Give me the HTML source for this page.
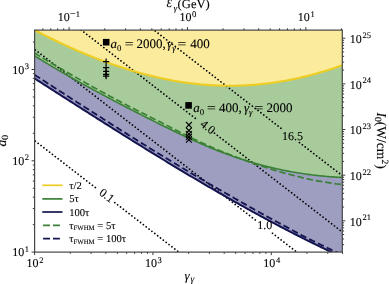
<!DOCTYPE html>
<html><head><meta charset="utf-8"><style>
html,body{margin:0;padding:0;background:#fff;overflow:hidden;}
svg{display:block;will-change:transform;font-family:"Liberation Serif",serif;text-rendering:geometricPrecision;}
text{stroke:#000;stroke-width:0.1px;}
</style></head><body>
<svg width="389" height="284" viewBox="0 0 389 284">
<defs><clipPath id="c"><rect x="34.60" y="30.10" width="307.70" height="222.00"/></clipPath></defs>
<rect width="389" height="284" fill="#fff"/>
<g clip-path="url(#c)">
<polygon fill="#fbeb9c" points="34.6,28.1 344.3,28.1 344.3,65.17407000513745 342.30,65.17 340.75,65.73 339.21,66.29 337.66,66.83 336.12,67.37 334.57,67.90 333.02,68.42 331.48,68.94 329.93,69.44 328.38,69.94 326.84,70.44 325.29,70.92 323.75,71.39 322.20,71.86 320.65,72.32 319.11,72.78 317.56,73.22 316.01,73.66 314.47,74.09 312.92,74.51 311.38,74.92 309.83,75.33 308.28,75.73 306.74,76.12 305.19,76.50 303.64,76.88 302.10,77.24 300.55,77.60 299.01,77.95 297.46,78.30 295.91,78.64 294.37,78.96 292.82,79.28 291.27,79.60 289.73,79.90 288.18,80.20 286.64,80.49 285.09,80.77 283.54,81.05 282.00,81.31 280.45,81.57 278.90,81.82 277.36,82.07 275.81,82.30 274.27,82.53 272.72,82.75 271.17,82.96 269.63,83.17 268.08,83.36 266.53,83.55 264.99,83.73 263.44,83.91 261.90,84.07 260.35,84.23 258.80,84.38 257.26,84.52 255.71,84.66 254.16,84.78 252.62,84.90 251.07,85.01 249.53,85.12 247.98,85.21 246.43,85.30 244.89,85.38 243.34,85.45 241.79,85.52 240.25,85.57 238.70,85.62 237.16,85.67 235.61,85.70 234.06,85.72 232.52,85.74 230.97,85.75 229.43,85.75 227.88,85.75 226.33,85.74 224.79,85.71 223.24,85.69 221.69,85.65 220.15,85.60 218.60,85.55 217.06,85.49 215.51,85.42 213.96,85.35 212.42,85.27 210.87,85.17 209.32,85.08 207.78,84.97 206.23,84.85 204.69,84.73 203.14,84.60 201.59,84.46 200.05,84.32 198.50,84.16 196.95,84.00 195.41,83.84 193.86,83.66 192.32,83.48 190.77,83.28 189.22,83.08 187.68,82.88 186.13,82.66 184.58,82.44 183.04,82.21 181.49,81.98 179.95,81.74 178.40,81.48 176.85,81.23 175.31,80.96 173.76,80.69 172.21,80.41 170.67,80.12 169.12,79.83 167.58,79.53 166.03,79.22 164.48,78.90 162.94,78.58 161.39,78.25 159.84,77.91 158.30,77.57 156.75,77.22 155.21,76.86 153.66,76.50 152.11,76.13 150.57,75.75 149.02,75.37 147.47,74.98 145.93,74.58 144.38,74.17 142.84,73.76 141.29,73.34 139.74,72.92 138.20,72.49 136.65,72.05 135.11,71.61 133.56,71.16 132.01,70.70 130.47,70.23 128.92,69.76 127.37,69.29 125.83,68.81 124.28,68.32 122.74,67.82 121.19,67.32 119.64,66.81 118.10,66.30 116.55,65.78 115.00,65.25 113.46,64.72 111.91,64.18 110.37,63.63 108.82,63.08 107.27,62.53 105.73,61.96 104.18,61.40 102.63,60.82 101.09,60.24 99.54,59.65 98.00,59.06 96.45,58.46 94.90,57.86 93.36,57.25 91.81,56.63 90.26,56.01 88.72,55.39 87.17,54.75 85.63,54.12 84.08,53.47 82.53,52.82 80.99,52.17 79.44,51.51 77.89,50.84 76.35,50.17 74.80,49.50 73.26,48.81 71.71,48.13 70.16,47.44 68.62,46.74 67.07,46.03 65.52,45.33 63.98,44.61 62.43,43.89 60.89,43.17 59.34,42.44 57.79,41.71 56.25,40.97 54.70,40.22 53.15,39.47 51.61,38.72 50.06,37.96 48.52,37.20 46.97,36.43 45.42,35.65 43.88,34.88 42.33,34.09 40.78,33.30 39.24,32.51 37.69,31.71 36.15,30.91 34.60,30.10 32.6,30.10372339808992"/>
<polygon fill="#a8cb9b" points="34.60,30.10 36.15,30.91 37.69,31.71 39.24,32.51 40.78,33.30 42.33,34.09 43.88,34.88 45.42,35.65 46.97,36.43 48.52,37.20 50.06,37.96 51.61,38.72 53.15,39.47 54.70,40.22 56.25,40.97 57.79,41.71 59.34,42.44 60.89,43.17 62.43,43.89 63.98,44.61 65.52,45.33 67.07,46.03 68.62,46.74 70.16,47.44 71.71,48.13 73.26,48.81 74.80,49.50 76.35,50.17 77.89,50.84 79.44,51.51 80.99,52.17 82.53,52.82 84.08,53.47 85.63,54.12 87.17,54.75 88.72,55.39 90.26,56.01 91.81,56.63 93.36,57.25 94.90,57.86 96.45,58.46 98.00,59.06 99.54,59.65 101.09,60.24 102.63,60.82 104.18,61.40 105.73,61.96 107.27,62.53 108.82,63.08 110.37,63.63 111.91,64.18 113.46,64.72 115.00,65.25 116.55,65.78 118.10,66.30 119.64,66.81 121.19,67.32 122.74,67.82 124.28,68.32 125.83,68.81 127.37,69.29 128.92,69.76 130.47,70.23 132.01,70.70 133.56,71.16 135.11,71.61 136.65,72.05 138.20,72.49 139.74,72.92 141.29,73.34 142.84,73.76 144.38,74.17 145.93,74.58 147.47,74.98 149.02,75.37 150.57,75.75 152.11,76.13 153.66,76.50 155.21,76.86 156.75,77.22 158.30,77.57 159.84,77.91 161.39,78.25 162.94,78.58 164.48,78.90 166.03,79.22 167.58,79.53 169.12,79.83 170.67,80.12 172.21,80.41 173.76,80.69 175.31,80.96 176.85,81.23 178.40,81.48 179.95,81.74 181.49,81.98 183.04,82.21 184.58,82.44 186.13,82.66 187.68,82.88 189.22,83.08 190.77,83.28 192.32,83.48 193.86,83.66 195.41,83.84 196.95,84.00 198.50,84.16 200.05,84.32 201.59,84.46 203.14,84.60 204.69,84.73 206.23,84.85 207.78,84.97 209.32,85.08 210.87,85.17 212.42,85.27 213.96,85.35 215.51,85.42 217.06,85.49 218.60,85.55 220.15,85.60 221.69,85.65 223.24,85.69 224.79,85.71 226.33,85.74 227.88,85.75 229.43,85.75 230.97,85.75 232.52,85.74 234.06,85.72 235.61,85.70 237.16,85.67 238.70,85.62 240.25,85.57 241.79,85.52 243.34,85.45 244.89,85.38 246.43,85.30 247.98,85.21 249.53,85.12 251.07,85.01 252.62,84.90 254.16,84.78 255.71,84.66 257.26,84.52 258.80,84.38 260.35,84.23 261.90,84.07 263.44,83.91 264.99,83.73 266.53,83.55 268.08,83.36 269.63,83.17 271.17,82.96 272.72,82.75 274.27,82.53 275.81,82.30 277.36,82.07 278.90,81.82 280.45,81.57 282.00,81.31 283.54,81.05 285.09,80.77 286.64,80.49 288.18,80.20 289.73,79.90 291.27,79.60 292.82,79.28 294.37,78.96 295.91,78.64 297.46,78.30 299.01,77.95 300.55,77.60 302.10,77.24 303.64,76.88 305.19,76.50 306.74,76.12 308.28,75.73 309.83,75.33 311.38,74.92 312.92,74.51 314.47,74.09 316.01,73.66 317.56,73.22 319.11,72.78 320.65,72.32 322.20,71.86 323.75,71.39 325.29,70.92 326.84,70.44 328.38,69.94 329.93,69.44 331.48,68.94 333.02,68.42 334.57,67.90 336.12,67.37 337.66,66.83 339.21,66.29 340.75,65.73 342.30,65.17 344.3,65.17407000513745 344.3,177.45064825028211 342.30,177.45 340.75,177.38 339.21,177.30 337.66,177.22 336.12,177.13 334.57,177.03 333.02,176.92 331.48,176.82 329.93,176.70 328.38,176.58 326.84,176.45 325.29,176.31 323.75,176.17 322.20,176.03 320.65,175.87 319.11,175.71 317.56,175.54 316.01,175.37 314.47,175.19 312.92,175.01 311.38,174.81 309.83,174.61 308.28,174.41 306.74,174.20 305.19,173.98 303.64,173.75 302.10,173.52 300.55,173.29 299.01,173.04 297.46,172.79 295.91,172.53 294.37,172.27 292.82,172.00 291.27,171.72 289.73,171.44 288.18,171.15 286.64,170.85 285.09,170.55 283.54,170.24 282.00,169.92 280.45,169.59 278.90,169.26 277.36,168.93 275.81,168.58 274.27,168.23 272.72,167.87 271.17,167.51 269.63,167.14 268.08,166.76 266.53,166.38 264.99,165.98 263.44,165.59 261.90,165.18 260.35,164.77 258.80,164.35 257.26,163.92 255.71,163.49 254.16,163.05 252.62,162.61 251.07,162.15 249.53,161.69 247.98,161.22 246.43,160.75 244.89,160.27 243.34,159.78 241.79,159.29 240.25,158.78 238.70,158.27 237.16,157.76 235.61,157.23 234.06,156.70 232.52,156.17 230.97,155.62 229.43,155.07 227.88,154.51 226.33,153.94 224.79,153.37 223.24,152.79 221.69,152.20 220.15,151.61 218.60,151.01 217.06,150.40 215.51,149.78 213.96,149.16 212.42,148.53 210.87,147.89 209.32,147.24 207.78,146.59 206.23,145.94 204.69,145.27 203.14,144.60 201.59,143.93 200.05,143.25 198.50,142.56 196.95,141.87 195.41,141.17 193.86,140.47 192.32,139.77 190.77,139.06 189.22,138.34 187.68,137.62 186.13,136.90 184.58,136.17 183.04,135.44 181.49,134.71 179.95,133.97 178.40,133.24 176.85,132.49 175.31,131.75 173.76,131.00 172.21,130.25 170.67,129.50 169.12,128.75 167.58,127.99 166.03,127.24 164.48,126.48 162.94,125.71 161.39,124.95 159.84,124.18 158.30,123.42 156.75,122.65 155.21,121.87 153.66,121.10 152.11,120.33 150.57,119.55 149.02,118.77 147.47,117.99 145.93,117.21 144.38,116.43 142.84,115.64 141.29,114.86 139.74,114.07 138.20,113.28 136.65,112.49 135.11,111.70 133.56,110.91 132.01,110.11 130.47,109.32 128.92,108.52 127.37,107.72 125.83,106.92 124.28,106.12 122.74,105.32 121.19,104.51 119.64,103.71 118.10,102.90 116.55,102.09 115.00,101.28 113.46,100.47 111.91,99.65 110.37,98.84 108.82,98.02 107.27,97.20 105.73,96.38 104.18,95.56 102.63,94.73 101.09,93.90 99.54,93.08 98.00,92.25 96.45,91.41 94.90,90.58 93.36,89.74 91.81,88.90 90.26,88.06 88.72,87.22 87.17,86.38 85.63,85.53 84.08,84.68 82.53,83.83 80.99,82.98 79.44,82.12 77.89,81.26 76.35,80.40 74.80,79.54 73.26,78.67 71.71,77.80 70.16,76.93 68.62,76.05 67.07,75.17 65.52,74.29 63.98,73.40 62.43,72.51 60.89,71.62 59.34,70.73 57.79,69.83 56.25,68.92 54.70,68.02 53.15,67.11 51.61,66.19 50.06,65.27 48.52,64.35 46.97,63.42 45.42,62.49 43.88,61.56 42.33,60.62 40.78,59.68 39.24,58.73 37.69,57.77 36.15,56.82 34.60,55.85 32.6,55.85386087221128 32.6,30.10372339808992"/>
<polygon fill="#9e9ec0" points="34.60,55.85 36.15,56.82 37.69,57.77 39.24,58.73 40.78,59.68 42.33,60.62 43.88,61.56 45.42,62.49 46.97,63.42 48.52,64.35 50.06,65.27 51.61,66.19 53.15,67.11 54.70,68.02 56.25,68.92 57.79,69.83 59.34,70.73 60.89,71.62 62.43,72.51 63.98,73.40 65.52,74.29 67.07,75.17 68.62,76.05 70.16,76.93 71.71,77.80 73.26,78.67 74.80,79.54 76.35,80.40 77.89,81.26 79.44,82.12 80.99,82.98 82.53,83.83 84.08,84.68 85.63,85.53 87.17,86.38 88.72,87.22 90.26,88.06 91.81,88.90 93.36,89.74 94.90,90.58 96.45,91.41 98.00,92.25 99.54,93.08 101.09,93.90 102.63,94.73 104.18,95.56 105.73,96.38 107.27,97.20 108.82,98.02 110.37,98.84 111.91,99.65 113.46,100.47 115.00,101.28 116.55,102.09 118.10,102.90 119.64,103.71 121.19,104.51 122.74,105.32 124.28,106.12 125.83,106.92 127.37,107.72 128.92,108.52 130.47,109.32 132.01,110.11 133.56,110.91 135.11,111.70 136.65,112.49 138.20,113.28 139.74,114.07 141.29,114.86 142.84,115.64 144.38,116.43 145.93,117.21 147.47,117.99 149.02,118.77 150.57,119.55 152.11,120.33 153.66,121.10 155.21,121.87 156.75,122.65 158.30,123.42 159.84,124.18 161.39,124.95 162.94,125.71 164.48,126.48 166.03,127.24 167.58,127.99 169.12,128.75 170.67,129.50 172.21,130.25 173.76,131.00 175.31,131.75 176.85,132.49 178.40,133.24 179.95,133.97 181.49,134.71 183.04,135.44 184.58,136.17 186.13,136.90 187.68,137.62 189.22,138.34 190.77,139.06 192.32,139.77 193.86,140.47 195.41,141.17 196.95,141.87 198.50,142.56 200.05,143.25 201.59,143.93 203.14,144.60 204.69,145.27 206.23,145.94 207.78,146.59 209.32,147.24 210.87,147.89 212.42,148.53 213.96,149.16 215.51,149.78 217.06,150.40 218.60,151.01 220.15,151.61 221.69,152.20 223.24,152.79 224.79,153.37 226.33,153.94 227.88,154.51 229.43,155.07 230.97,155.62 232.52,156.17 234.06,156.70 235.61,157.23 237.16,157.76 238.70,158.27 240.25,158.78 241.79,159.29 243.34,159.78 244.89,160.27 246.43,160.75 247.98,161.22 249.53,161.69 251.07,162.15 252.62,162.61 254.16,163.05 255.71,163.49 257.26,163.92 258.80,164.35 260.35,164.77 261.90,165.18 263.44,165.59 264.99,165.98 266.53,166.38 268.08,166.76 269.63,167.14 271.17,167.51 272.72,167.87 274.27,168.23 275.81,168.58 277.36,168.93 278.90,169.26 280.45,169.59 282.00,169.92 283.54,170.24 285.09,170.55 286.64,170.85 288.18,171.15 289.73,171.44 291.27,171.72 292.82,172.00 294.37,172.27 295.91,172.53 297.46,172.79 299.01,173.04 300.55,173.29 302.10,173.52 303.64,173.75 305.19,173.98 306.74,174.20 308.28,174.41 309.83,174.61 311.38,174.81 312.92,175.01 314.47,175.19 316.01,175.37 317.56,175.54 319.11,175.71 320.65,175.87 322.20,176.03 323.75,176.17 325.29,176.31 326.84,176.45 328.38,176.58 329.93,176.70 331.48,176.82 333.02,176.92 334.57,177.03 336.12,177.13 337.66,177.22 339.21,177.30 340.75,177.38 342.30,177.45 344.3,177.45064825028211 344.3,254.1 345.0,254.1 345.00,258.37 343.75,257.80 342.51,257.23 341.26,256.65 340.01,256.08 338.77,255.50 337.52,254.93 336.27,254.35 335.03,253.76 333.78,253.18 332.53,252.60 331.29,252.01 330.04,251.42 328.79,250.83 327.55,250.24 326.30,249.64 325.05,249.05 323.81,248.45 322.56,247.85 321.31,247.25 320.07,246.65 318.82,246.04 317.58,245.44 316.33,244.83 315.08,244.22 313.84,243.61 312.59,243.00 311.34,242.38 310.10,241.77 308.85,241.15 307.60,240.53 306.36,239.91 305.11,239.28 303.86,238.66 302.62,238.03 301.37,237.41 300.12,236.78 298.88,236.15 297.63,235.51 296.38,234.88 295.14,234.24 293.89,233.61 292.64,232.97 291.40,232.33 290.15,231.69 288.90,231.04 287.66,230.40 286.41,229.75 285.16,229.11 283.92,228.46 282.67,227.81 281.42,227.15 280.18,226.50 278.93,225.84 277.68,225.19 276.44,224.53 275.19,223.87 273.94,223.21 272.70,222.55 271.45,221.88 270.20,221.22 268.96,220.55 267.71,219.88 266.47,219.21 265.22,218.54 263.97,217.87 262.73,217.20 261.48,216.52 260.23,215.84 258.99,215.17 257.74,214.49 256.49,213.81 255.25,213.13 254.00,212.44 252.75,211.76 251.51,211.07 250.26,210.39 249.01,209.70 247.77,209.01 246.52,208.32 245.27,207.62 244.03,206.93 242.78,206.24 241.53,205.54 240.29,204.84 239.04,204.14 237.79,203.44 236.55,202.74 235.30,202.04 234.05,201.34 232.81,200.63 231.56,199.93 230.31,199.22 229.07,198.51 227.82,197.80 226.57,197.09 225.33,196.38 224.08,195.67 222.83,194.96 221.59,194.24 220.34,193.53 219.09,192.81 217.85,192.09 216.60,191.37 215.36,190.65 214.11,189.93 212.86,189.21 211.62,188.48 210.37,187.76 209.12,187.03 207.88,186.30 206.63,185.58 205.38,184.85 204.14,184.12 202.89,183.39 201.64,182.65 200.40,181.92 199.15,181.19 197.90,180.45 196.66,179.72 195.41,178.98 194.16,178.24 192.92,177.50 191.67,176.76 190.42,176.02 189.18,175.28 187.93,174.54 186.68,173.79 185.44,173.05 184.19,172.30 182.94,171.56 181.70,170.81 180.45,170.06 179.20,169.31 177.96,168.56 176.71,167.81 175.46,167.06 174.22,166.31 172.97,165.56 171.72,164.80 170.48,164.05 169.23,163.29 167.98,162.53 166.74,161.78 165.49,161.02 164.24,160.26 163.00,159.50 161.75,158.74 160.51,157.98 159.26,157.22 158.01,156.45 156.77,155.69 155.52,154.93 154.27,154.16 153.03,153.39 151.78,152.63 150.53,151.86 149.29,151.09 148.04,150.32 146.79,149.56 145.55,148.79 144.30,148.02 143.05,147.24 141.81,146.47 140.56,145.70 139.31,144.93 138.07,144.15 136.82,143.38 135.57,142.60 134.33,141.83 133.08,141.05 131.83,140.27 130.59,139.50 129.34,138.72 128.09,137.94 126.85,137.16 125.60,136.38 124.35,135.60 123.11,134.82 121.86,134.04 120.61,133.26 119.37,132.47 118.12,131.69 116.87,130.91 115.63,130.12 114.38,129.34 113.13,128.55 111.89,127.77 110.64,126.98 109.40,126.20 108.15,125.41 106.90,124.62 105.66,123.83 104.41,123.05 103.16,122.26 101.92,121.47 100.67,120.68 99.42,119.89 98.18,119.10 96.93,118.31 95.68,117.52 94.44,116.73 93.19,115.93 91.94,115.14 90.70,114.35 89.45,113.56 88.20,112.76 86.96,111.97 85.71,111.18 84.46,110.38 83.22,109.59 81.97,108.79 80.72,108.00 79.48,107.20 78.23,106.41 76.98,105.61 75.74,104.81 74.49,104.02 73.24,103.22 72.00,102.42 70.75,101.63 69.50,100.83 68.26,100.03 67.01,99.23 65.76,98.44 64.52,97.64 63.27,96.84 62.02,96.04 60.78,95.24 59.53,94.44 58.29,93.65 57.04,92.85 55.79,92.05 54.55,91.25 53.30,90.45 52.05,89.65 50.81,88.85 49.56,88.05 48.31,87.25 47.07,86.45 45.82,85.65 44.57,84.85 43.33,84.05 42.08,83.25 40.83,82.45 39.59,81.65 38.34,80.84 37.09,80.04 35.85,79.24 34.60,78.44 32.6,78.44250850084877 32.6,55.85386087221128"/>
<line x1="29.60" y1="136.72" x2="97.80" y2="189.46" stroke="#000" stroke-width="1.75" stroke-dasharray="0.01 3.6" stroke-linecap="round" fill="none"/>
<line x1="114.80" y1="202.61" x2="347.30" y2="382.40" stroke="#000" stroke-width="1.75" stroke-dasharray="0.01 3.6" stroke-linecap="round" fill="none"/>
<line x1="29.60" y1="45.47" x2="255.50" y2="220.16" stroke="#000" stroke-width="1.75" stroke-dasharray="0.01 3.6" stroke-linecap="round" fill="none"/>
<line x1="272.50" y1="233.31" x2="347.30" y2="291.15" stroke="#000" stroke-width="1.75" stroke-dasharray="0.01 3.6" stroke-linecap="round" fill="none"/>
<line x1="29.60" y1="-9.82" x2="197.00" y2="119.63" stroke="#000" stroke-width="1.75" stroke-dasharray="0.01 3.6" stroke-linecap="round" fill="none"/>
<line x1="214.50" y1="133.17" x2="347.30" y2="235.86" stroke="#000" stroke-width="1.75" stroke-dasharray="0.01 3.6" stroke-linecap="round" fill="none"/>
<line x1="29.60" y1="-66.11" x2="281.00" y2="128.29" stroke="#000" stroke-width="1.75" stroke-dasharray="0.01 3.6" stroke-linecap="round" fill="none"/>
<line x1="299.50" y1="142.60" x2="347.30" y2="179.56" stroke="#000" stroke-width="1.75" stroke-dasharray="0.01 3.6" stroke-linecap="round" fill="none"/>
<polyline points="34.60,30.10 36.15,30.91 37.69,31.71 39.24,32.51 40.78,33.30 42.33,34.09 43.88,34.88 45.42,35.65 46.97,36.43 48.52,37.20 50.06,37.96 51.61,38.72 53.15,39.47 54.70,40.22 56.25,40.97 57.79,41.71 59.34,42.44 60.89,43.17 62.43,43.89 63.98,44.61 65.52,45.33 67.07,46.03 68.62,46.74 70.16,47.44 71.71,48.13 73.26,48.81 74.80,49.50 76.35,50.17 77.89,50.84 79.44,51.51 80.99,52.17 82.53,52.82 84.08,53.47 85.63,54.12 87.17,54.75 88.72,55.39 90.26,56.01 91.81,56.63 93.36,57.25 94.90,57.86 96.45,58.46 98.00,59.06 99.54,59.65 101.09,60.24 102.63,60.82 104.18,61.40 105.73,61.96 107.27,62.53 108.82,63.08 110.37,63.63 111.91,64.18 113.46,64.72 115.00,65.25 116.55,65.78 118.10,66.30 119.64,66.81 121.19,67.32 122.74,67.82 124.28,68.32 125.83,68.81 127.37,69.29 128.92,69.76 130.47,70.23 132.01,70.70 133.56,71.16 135.11,71.61 136.65,72.05 138.20,72.49 139.74,72.92 141.29,73.34 142.84,73.76 144.38,74.17 145.93,74.58 147.47,74.98 149.02,75.37 150.57,75.75 152.11,76.13 153.66,76.50 155.21,76.86 156.75,77.22 158.30,77.57 159.84,77.91 161.39,78.25 162.94,78.58 164.48,78.90 166.03,79.22 167.58,79.53 169.12,79.83 170.67,80.12 172.21,80.41 173.76,80.69 175.31,80.96 176.85,81.23 178.40,81.48 179.95,81.74 181.49,81.98 183.04,82.21 184.58,82.44 186.13,82.66 187.68,82.88 189.22,83.08 190.77,83.28 192.32,83.48 193.86,83.66 195.41,83.84 196.95,84.00 198.50,84.16 200.05,84.32 201.59,84.46 203.14,84.60 204.69,84.73 206.23,84.85 207.78,84.97 209.32,85.08 210.87,85.17 212.42,85.27 213.96,85.35 215.51,85.42 217.06,85.49 218.60,85.55 220.15,85.60 221.69,85.65 223.24,85.69 224.79,85.71 226.33,85.74 227.88,85.75 229.43,85.75 230.97,85.75 232.52,85.74 234.06,85.72 235.61,85.70 237.16,85.67 238.70,85.62 240.25,85.57 241.79,85.52 243.34,85.45 244.89,85.38 246.43,85.30 247.98,85.21 249.53,85.12 251.07,85.01 252.62,84.90 254.16,84.78 255.71,84.66 257.26,84.52 258.80,84.38 260.35,84.23 261.90,84.07 263.44,83.91 264.99,83.73 266.53,83.55 268.08,83.36 269.63,83.17 271.17,82.96 272.72,82.75 274.27,82.53 275.81,82.30 277.36,82.07 278.90,81.82 280.45,81.57 282.00,81.31 283.54,81.05 285.09,80.77 286.64,80.49 288.18,80.20 289.73,79.90 291.27,79.60 292.82,79.28 294.37,78.96 295.91,78.64 297.46,78.30 299.01,77.95 300.55,77.60 302.10,77.24 303.64,76.88 305.19,76.50 306.74,76.12 308.28,75.73 309.83,75.33 311.38,74.92 312.92,74.51 314.47,74.09 316.01,73.66 317.56,73.22 319.11,72.78 320.65,72.32 322.20,71.86 323.75,71.39 325.29,70.92 326.84,70.44 328.38,69.94 329.93,69.44 331.48,68.94 333.02,68.42 334.57,67.90 336.12,67.37 337.66,66.83 339.21,66.29 340.75,65.73 342.30,65.17" fill="none" stroke="#eecd22" stroke-width="2.1"/>
<polyline points="34.60,53.05 36.15,54.00 37.69,54.95 39.24,55.89 40.78,56.83 42.33,57.76 43.88,58.69 45.42,59.61 46.97,60.53 48.52,61.44 50.06,62.35 51.61,63.26 53.15,64.16 54.70,65.06 56.25,65.95 57.79,66.84 59.34,67.73 60.89,68.63 62.43,69.55 63.98,70.46 65.52,71.36 67.07,72.27 68.62,73.17 70.16,74.06 71.71,74.96 73.26,75.85 74.80,76.73 76.35,77.62 77.89,78.50 79.44,79.38 80.99,80.26 82.53,81.13 84.08,82.00 85.63,82.87 87.17,83.74 88.72,84.60 90.26,85.47 91.81,86.32 93.36,87.17 94.90,88.02 96.45,88.86 98.00,89.71 99.54,90.55 101.09,91.39 102.63,92.23 104.18,93.06 105.73,93.90 107.27,94.73 108.82,95.56 110.37,96.39 111.91,97.22 113.46,98.04 115.00,98.87 116.55,99.69 118.10,100.51 119.64,101.33 121.19,102.15 122.74,102.96 124.28,103.78 125.83,104.59 127.37,105.40 128.92,106.21 130.47,107.02 132.01,107.81 133.56,108.59 135.11,109.38 136.65,110.17 138.20,110.95 139.74,111.74 141.29,112.52 142.84,113.30 144.38,114.08 145.93,114.86 147.47,115.63 149.02,116.41 150.57,117.18 152.11,117.95 153.66,118.72 155.21,119.49 156.75,120.26 158.30,121.02 159.84,121.78 161.39,122.59 162.94,123.40 164.48,124.20 166.03,125.01 167.58,125.81 169.12,126.61 170.67,127.41 172.21,128.20 173.76,129.00 175.31,129.79 176.85,130.58 178.40,131.36 179.95,132.14 181.49,132.92 183.04,133.70 184.58,134.48 186.13,135.25 187.68,136.01 189.22,136.78 190.77,137.53 192.32,138.29 193.86,139.04 195.41,139.78 196.95,140.51 198.50,141.24 200.05,141.96 201.59,142.68 203.14,143.39 204.69,144.10 206.23,144.80 207.78,145.49 209.32,146.18 210.87,146.86 212.42,147.53 213.96,148.20 215.51,148.86 217.06,149.51 218.60,150.16 220.15,150.79 221.69,151.43 223.24,152.05 224.79,152.67 226.33,153.29 227.88,153.91 229.43,154.52 230.97,155.13 232.52,155.73 234.06,156.32 235.61,156.90 237.16,157.48 238.70,158.05 240.25,158.62 241.79,159.17 243.34,159.72 244.89,160.26 246.43,160.84 247.98,161.40 249.53,161.96 251.07,162.52 252.62,163.06 254.16,163.60 255.71,164.13 257.26,164.66 258.80,165.18 260.35,165.69 261.90,166.19 263.44,166.69 264.99,167.18 266.53,167.67 268.08,168.15 269.63,168.62 271.17,169.11 272.72,169.60 274.27,170.09 275.81,170.57 277.36,171.04 278.90,171.51 280.45,171.97 282.00,172.42 283.54,172.86 285.09,173.30 286.64,173.74 288.18,174.16 289.73,174.52 291.27,174.88 292.82,175.23 294.37,175.57 295.91,175.91 297.46,176.30 299.01,176.73 300.55,177.15 302.10,177.57 303.64,177.98 305.19,178.39 306.74,178.75 308.28,179.08 309.83,179.39 311.38,179.71 312.92,180.01 314.47,180.31 316.01,180.60 317.56,180.88 319.11,181.15 320.65,181.42 322.20,181.68 323.75,181.93 325.29,182.18 326.84,182.43 328.38,182.68 329.93,182.92 331.48,183.16 333.02,183.39 334.57,183.61 336.12,183.83 337.66,183.99 339.21,184.15 340.75,184.30 342.30,184.45" fill="none" stroke="#3a8036" stroke-width="1.7" stroke-dasharray="6.6 2.8"/>
<polyline points="34.60,55.85 36.15,56.82 37.69,57.77 39.24,58.73 40.78,59.68 42.33,60.62 43.88,61.56 45.42,62.49 46.97,63.42 48.52,64.35 50.06,65.27 51.61,66.19 53.15,67.11 54.70,68.02 56.25,68.92 57.79,69.83 59.34,70.73 60.89,71.62 62.43,72.51 63.98,73.40 65.52,74.29 67.07,75.17 68.62,76.05 70.16,76.93 71.71,77.80 73.26,78.67 74.80,79.54 76.35,80.40 77.89,81.26 79.44,82.12 80.99,82.98 82.53,83.83 84.08,84.68 85.63,85.53 87.17,86.38 88.72,87.22 90.26,88.06 91.81,88.90 93.36,89.74 94.90,90.58 96.45,91.41 98.00,92.25 99.54,93.08 101.09,93.90 102.63,94.73 104.18,95.56 105.73,96.38 107.27,97.20 108.82,98.02 110.37,98.84 111.91,99.65 113.46,100.47 115.00,101.28 116.55,102.09 118.10,102.90 119.64,103.71 121.19,104.51 122.74,105.32 124.28,106.12 125.83,106.92 127.37,107.72 128.92,108.52 130.47,109.32 132.01,110.11 133.56,110.91 135.11,111.70 136.65,112.49 138.20,113.28 139.74,114.07 141.29,114.86 142.84,115.64 144.38,116.43 145.93,117.21 147.47,117.99 149.02,118.77 150.57,119.55 152.11,120.33 153.66,121.10 155.21,121.87 156.75,122.65 158.30,123.42 159.84,124.18 161.39,124.95 162.94,125.71 164.48,126.48 166.03,127.24 167.58,127.99 169.12,128.75 170.67,129.50 172.21,130.25 173.76,131.00 175.31,131.75 176.85,132.49 178.40,133.24 179.95,133.97 181.49,134.71 183.04,135.44 184.58,136.17 186.13,136.90 187.68,137.62 189.22,138.34 190.77,139.06 192.32,139.77 193.86,140.47 195.41,141.17 196.95,141.87 198.50,142.56 200.05,143.25 201.59,143.93 203.14,144.60 204.69,145.27 206.23,145.94 207.78,146.59 209.32,147.24 210.87,147.89 212.42,148.53 213.96,149.16 215.51,149.78 217.06,150.40 218.60,151.01 220.15,151.61 221.69,152.20 223.24,152.79 224.79,153.37 226.33,153.94 227.88,154.51 229.43,155.07 230.97,155.62 232.52,156.17 234.06,156.70 235.61,157.23 237.16,157.76 238.70,158.27 240.25,158.78 241.79,159.29 243.34,159.78 244.89,160.27 246.43,160.75 247.98,161.22 249.53,161.69 251.07,162.15 252.62,162.61 254.16,163.05 255.71,163.49 257.26,163.92 258.80,164.35 260.35,164.77 261.90,165.18 263.44,165.59 264.99,165.98 266.53,166.38 268.08,166.76 269.63,167.14 271.17,167.51 272.72,167.87 274.27,168.23 275.81,168.58 277.36,168.93 278.90,169.26 280.45,169.59 282.00,169.92 283.54,170.24 285.09,170.55 286.64,170.85 288.18,171.15 289.73,171.44 291.27,171.72 292.82,172.00 294.37,172.27 295.91,172.53 297.46,172.79 299.01,173.04 300.55,173.29 302.10,173.52 303.64,173.75 305.19,173.98 306.74,174.20 308.28,174.41 309.83,174.61 311.38,174.81 312.92,175.01 314.47,175.19 316.01,175.37 317.56,175.54 319.11,175.71 320.65,175.87 322.20,176.03 323.75,176.17 325.29,176.31 326.84,176.45 328.38,176.58 329.93,176.70 331.48,176.82 333.02,176.92 334.57,177.03 336.12,177.13 337.66,177.22 339.21,177.30 340.75,177.38 342.30,177.45" fill="none" stroke="#3a8036" stroke-width="1.6"/>
<polyline points="34.60,74.84 35.85,75.65 37.09,76.45 38.34,77.26 39.59,78.06 40.83,78.87 42.08,79.67 43.33,80.48 44.57,81.28 45.82,82.09 47.07,82.89 48.31,83.70 49.56,84.50 50.81,85.30 52.05,86.11 53.30,86.91 54.55,87.72 55.79,88.52 57.04,89.32 58.29,90.13 59.53,90.93 60.78,91.73 62.02,92.54 63.27,93.34 64.52,94.14 65.76,94.94 67.01,95.75 68.26,96.55 69.50,97.35 70.75,98.15 72.00,98.95 73.24,99.76 74.49,100.56 75.74,101.36 76.98,102.16 78.23,102.96 79.48,103.76 80.72,104.56 81.97,105.36 83.22,106.16 84.46,106.95 85.71,107.75 86.96,108.55 88.20,109.35 89.45,110.15 90.70,110.94 91.94,111.74 93.19,112.54 94.44,113.33 95.68,114.13 96.93,114.92 98.18,115.72 99.42,116.51 100.67,117.31 101.92,118.10 103.16,118.89 104.41,119.69 105.66,120.48 106.90,121.27 108.15,122.06 109.40,122.85 110.64,123.65 111.89,124.44 113.13,125.23 114.38,126.01 115.63,126.80 116.87,127.59 118.12,128.38 119.37,129.17 120.61,129.95 121.86,130.74 123.11,131.53 124.35,132.31 125.60,133.10 126.85,133.88 128.09,134.66 129.34,135.45 130.59,136.23 131.83,137.01 133.08,137.79 134.33,138.57 135.57,139.35 136.82,140.13 138.07,140.91 139.31,141.69 140.56,142.47 141.81,143.24 143.05,144.02 144.30,144.80 145.55,145.57 146.79,146.34 148.04,147.12 149.29,147.89 150.53,148.66 151.78,149.42 153.03,150.19 154.27,150.95 155.52,151.71 156.77,152.47 158.01,153.23 159.26,153.99 160.51,154.75 161.75,155.51 163.00,156.27 164.24,157.02 165.49,157.78 166.74,158.54 167.98,159.29 169.23,160.04 170.48,160.80 171.72,161.55 172.97,162.30 174.22,163.05 175.46,163.80 176.71,164.55 177.96,165.29 179.20,166.04 180.45,166.79 181.70,167.53 182.94,168.28 184.19,169.02 185.44,169.76 186.68,170.50 187.93,171.24 189.18,171.98 190.42,172.72 191.67,173.46 192.92,174.20 194.16,174.93 195.41,175.67 196.66,176.40 197.90,177.13 199.15,177.87 200.40,178.60 201.64,179.33 202.89,180.06 204.14,180.78 205.38,181.51 206.63,182.24 207.88,182.96 209.12,183.69 210.37,184.41 211.62,185.13 212.86,185.85 214.11,186.57 215.36,187.29 216.60,188.01 217.85,188.72 219.09,189.44 220.34,190.15 221.59,190.86 222.83,191.58 224.08,192.29 225.33,193.00 226.57,193.71 227.82,194.41 229.07,195.12 230.31,195.82 231.56,196.53 232.81,197.25 234.05,197.97 235.30,198.69 236.55,199.40 237.79,200.11 239.04,200.83 240.29,201.54 241.53,202.25 242.78,202.96 244.03,203.66 245.27,204.37 246.52,205.07 247.77,205.78 249.01,206.48 250.26,207.18 251.51,207.88 252.75,208.58 254.00,209.28 255.25,209.97 256.49,210.67 257.74,211.36 258.99,212.05 260.23,212.74 261.48,213.43 262.73,214.12 263.97,214.80 265.22,215.49 266.47,216.17 267.71,216.86 268.96,217.54 270.20,218.22 271.45,218.89 272.70,219.57 273.94,220.25 275.19,220.92 276.44,221.59 277.68,222.26 278.93,222.93 280.18,223.60 281.42,224.27 282.67,224.93 283.92,225.59 285.16,226.26 286.41,226.92 287.66,227.58 288.90,228.23 290.15,228.89 291.40,229.60 292.64,230.30 293.89,231.00 295.14,231.70 296.38,232.40 297.63,233.10 298.88,233.79 300.12,234.48 301.37,235.11 302.62,235.73 303.86,236.36 305.11,236.98 306.36,237.61 307.60,238.23 308.85,238.85 310.10,239.47 311.34,240.08 312.59,240.70 313.84,241.31 315.08,241.92 316.33,242.53 317.58,243.14 318.82,243.74 320.07,244.35 321.31,244.95 322.56,245.55 323.81,246.15 325.05,246.75 326.30,247.34 327.55,247.94 328.79,248.53 330.04,249.12 331.29,249.71 332.53,250.30 333.78,250.88 335.03,251.46 336.27,252.05 337.52,252.63 338.77,253.20 340.01,253.78 341.26,254.35 342.51,254.93 343.75,255.50 345.00,256.07" fill="none" stroke="#141450" stroke-width="1.8" stroke-dasharray="6.5 3.2"/>
<polyline points="34.60,78.44 35.85,79.24 37.09,80.04 38.34,80.84 39.59,81.65 40.83,82.45 42.08,83.25 43.33,84.05 44.57,84.85 45.82,85.65 47.07,86.45 48.31,87.25 49.56,88.05 50.81,88.85 52.05,89.65 53.30,90.45 54.55,91.25 55.79,92.05 57.04,92.85 58.29,93.65 59.53,94.44 60.78,95.24 62.02,96.04 63.27,96.84 64.52,97.64 65.76,98.44 67.01,99.23 68.26,100.03 69.50,100.83 70.75,101.63 72.00,102.42 73.24,103.22 74.49,104.02 75.74,104.81 76.98,105.61 78.23,106.41 79.48,107.20 80.72,108.00 81.97,108.79 83.22,109.59 84.46,110.38 85.71,111.18 86.96,111.97 88.20,112.76 89.45,113.56 90.70,114.35 91.94,115.14 93.19,115.93 94.44,116.73 95.68,117.52 96.93,118.31 98.18,119.10 99.42,119.89 100.67,120.68 101.92,121.47 103.16,122.26 104.41,123.05 105.66,123.83 106.90,124.62 108.15,125.41 109.40,126.20 110.64,126.98 111.89,127.77 113.13,128.55 114.38,129.34 115.63,130.12 116.87,130.91 118.12,131.69 119.37,132.47 120.61,133.26 121.86,134.04 123.11,134.82 124.35,135.60 125.60,136.38 126.85,137.16 128.09,137.94 129.34,138.72 130.59,139.50 131.83,140.27 133.08,141.05 134.33,141.83 135.57,142.60 136.82,143.38 138.07,144.15 139.31,144.93 140.56,145.70 141.81,146.47 143.05,147.24 144.30,148.02 145.55,148.79 146.79,149.56 148.04,150.32 149.29,151.09 150.53,151.86 151.78,152.63 153.03,153.39 154.27,154.16 155.52,154.93 156.77,155.69 158.01,156.45 159.26,157.22 160.51,157.98 161.75,158.74 163.00,159.50 164.24,160.26 165.49,161.02 166.74,161.78 167.98,162.53 169.23,163.29 170.48,164.05 171.72,164.80 172.97,165.56 174.22,166.31 175.46,167.06 176.71,167.81 177.96,168.56 179.20,169.31 180.45,170.06 181.70,170.81 182.94,171.56 184.19,172.30 185.44,173.05 186.68,173.79 187.93,174.54 189.18,175.28 190.42,176.02 191.67,176.76 192.92,177.50 194.16,178.24 195.41,178.98 196.66,179.72 197.90,180.45 199.15,181.19 200.40,181.92 201.64,182.65 202.89,183.39 204.14,184.12 205.38,184.85 206.63,185.58 207.88,186.30 209.12,187.03 210.37,187.76 211.62,188.48 212.86,189.21 214.11,189.93 215.36,190.65 216.60,191.37 217.85,192.09 219.09,192.81 220.34,193.53 221.59,194.24 222.83,194.96 224.08,195.67 225.33,196.38 226.57,197.09 227.82,197.80 229.07,198.51 230.31,199.22 231.56,199.93 232.81,200.63 234.05,201.34 235.30,202.04 236.55,202.74 237.79,203.44 239.04,204.14 240.29,204.84 241.53,205.54 242.78,206.24 244.03,206.93 245.27,207.62 246.52,208.32 247.77,209.01 249.01,209.70 250.26,210.39 251.51,211.07 252.75,211.76 254.00,212.44 255.25,213.13 256.49,213.81 257.74,214.49 258.99,215.17 260.23,215.84 261.48,216.52 262.73,217.20 263.97,217.87 265.22,218.54 266.47,219.21 267.71,219.88 268.96,220.55 270.20,221.22 271.45,221.88 272.70,222.55 273.94,223.21 275.19,223.87 276.44,224.53 277.68,225.19 278.93,225.84 280.18,226.50 281.42,227.15 282.67,227.81 283.92,228.46 285.16,229.11 286.41,229.75 287.66,230.40 288.90,231.04 290.15,231.69 291.40,232.33 292.64,232.97 293.89,233.61 295.14,234.24 296.38,234.88 297.63,235.51 298.88,236.15 300.12,236.78 301.37,237.41 302.62,238.03 303.86,238.66 305.11,239.28 306.36,239.91 307.60,240.53 308.85,241.15 310.10,241.77 311.34,242.38 312.59,243.00 313.84,243.61 315.08,244.22 316.33,244.83 317.58,245.44 318.82,246.04 320.07,246.65 321.31,247.25 322.56,247.85 323.81,248.45 325.05,249.05 326.30,249.64 327.55,250.24 328.79,250.83 330.04,251.42 331.29,252.01 332.53,252.60 333.78,253.18 335.03,253.76 336.27,254.35 337.52,254.93 338.77,255.50 340.01,256.08 341.26,256.65 342.51,257.23 343.75,257.80 345.00,258.37" fill="none" stroke="#141450" stroke-width="2"/>
</g>
<rect x="102.90" y="38.90" width="6.6" height="6.6" fill="#000"/>
<rect x="185.30" y="102.10" width="6.6" height="6.6" fill="#000"/>
<path d="M103.00,61.70H109.20M106.10,58.60V64.80" stroke="#000" stroke-width="1.2" fill="none"/>
<path d="M103.00,67.70H109.20M106.10,64.60V70.80" stroke="#000" stroke-width="1.2" fill="none"/>
<path d="M103.00,71.40H109.20M106.10,68.30V74.50" stroke="#000" stroke-width="1.2" fill="none"/>
<path d="M103.00,74.30H109.20M106.10,71.20V77.40" stroke="#000" stroke-width="1.2" fill="none"/>
<path d="M103.00,76.20H109.20M106.10,73.10V79.30" stroke="#000" stroke-width="1.2" fill="none"/>
<path d="M186.00,122.00L191.80,127.80M186.00,127.80L191.80,122.00" stroke="#000" stroke-width="1.2" fill="none"/>
<path d="M186.00,127.60L191.80,133.40M186.00,133.40L191.80,127.60" stroke="#000" stroke-width="1.2" fill="none"/>
<path d="M186.00,131.10L191.80,136.90M186.00,136.90L191.80,131.10" stroke="#000" stroke-width="1.2" fill="none"/>
<path d="M186.00,134.00L191.80,139.80M186.00,139.80L191.80,134.00" stroke="#000" stroke-width="1.2" fill="none"/>
<path d="M186.00,136.80L191.80,142.60M186.00,142.60L191.80,136.80" stroke="#000" stroke-width="1.2" fill="none"/>
<rect x="34.6" y="30.1" width="307.70" height="222.00" fill="none" stroke="#464646" stroke-width="1.2"/>
<path d="M34.60,252.1v3.0M70.23,252.1v1.8M91.07,252.1v1.8M105.85,252.1v1.8M117.32,252.1v1.8M126.69,252.1v1.8M134.62,252.1v1.8M141.48,252.1v1.8M147.53,252.1v1.8M152.95,252.1v3.0M188.58,252.1v1.8M209.42,252.1v1.8M224.20,252.1v1.8M235.67,252.1v1.8M245.04,252.1v1.8M252.97,252.1v1.8M259.83,252.1v1.8M265.88,252.1v1.8M271.30,252.1v3.0M306.93,252.1v1.8M327.77,252.1v1.8M342.55,252.1v1.8M34.6,252.10h-3.0M34.6,224.62h-1.8M34.6,208.54h-1.8M34.6,197.13h-1.8M34.6,188.28h-1.8M34.6,181.05h-1.8M34.6,174.94h-1.8M34.6,169.65h-1.8M34.6,164.98h-1.8M34.6,160.80h-3.0M34.6,133.32h-1.8M34.6,117.24h-1.8M34.6,105.83h-1.8M34.6,96.98h-1.8M34.6,89.75h-1.8M34.6,83.64h-1.8M34.6,78.35h-1.8M34.6,73.68h-1.8M34.6,69.50h-3.0M34.6,42.02h-1.8M42.85,30.1v-1.8M50.78,30.1v-1.8M57.64,30.1v-1.8M63.69,30.1v-1.8M69.11,30.1v-3.0M104.74,30.1v-1.8M125.58,30.1v-1.8M140.36,30.1v-1.8M151.83,30.1v-1.8M161.20,30.1v-1.8M169.13,30.1v-1.8M175.99,30.1v-1.8M182.04,30.1v-1.8M187.46,30.1v-3.0M223.09,30.1v-1.8M243.93,30.1v-1.8M258.71,30.1v-1.8M270.18,30.1v-1.8M279.55,30.1v-1.8M287.48,30.1v-1.8M294.34,30.1v-1.8M300.39,30.1v-1.8M305.81,30.1v-3.0M341.44,30.1v-1.8M342.3,244.67h1.8M342.3,238.97h1.8M342.3,234.54h1.8M342.3,230.93h1.8M342.3,227.87h1.8M342.3,225.22h1.8M342.3,222.89h1.8M342.3,220.80h3.0M342.3,207.06h1.8M342.3,199.02h1.8M342.3,193.32h1.8M342.3,188.89h1.8M342.3,185.28h1.8M342.3,182.22h1.8M342.3,179.57h1.8M342.3,177.24h1.8M342.3,175.15h3.0M342.3,161.41h1.8M342.3,153.37h1.8M342.3,147.67h1.8M342.3,143.24h1.8M342.3,139.63h1.8M342.3,136.57h1.8M342.3,133.92h1.8M342.3,131.59h1.8M342.3,129.50h3.0M342.3,115.76h1.8M342.3,107.72h1.8M342.3,102.02h1.8M342.3,97.59h1.8M342.3,93.98h1.8M342.3,90.92h1.8M342.3,88.27h1.8M342.3,85.94h1.8M342.3,83.85h3.0M342.3,70.11h1.8M342.3,62.07h1.8M342.3,56.37h1.8M342.3,51.94h1.8M342.3,48.33h1.8M342.3,45.27h1.8M342.3,42.62h1.8M342.3,40.29h1.8M342.3,38.20h3.0" stroke="#3c3c3c" stroke-width="1" fill="none"/>
<text x="26.60" y="267.20" font-size="12.0" text-anchor="start" font-family="Liberation Serif, serif" >10</text><text x="39.20" y="262.60" font-size="8.5" text-anchor="start" font-family="Liberation Serif, serif" >2</text>
<text x="144.95" y="267.20" font-size="12.0" text-anchor="start" font-family="Liberation Serif, serif" >10</text><text x="157.55" y="262.60" font-size="8.5" text-anchor="start" font-family="Liberation Serif, serif" >3</text>
<text x="263.30" y="267.20" font-size="12.0" text-anchor="start" font-family="Liberation Serif, serif" >10</text><text x="275.90" y="262.60" font-size="8.5" text-anchor="start" font-family="Liberation Serif, serif" >4</text>
<text x="12.20" y="256.30" font-size="12.0" text-anchor="start" font-family="Liberation Serif, serif" >10</text><text x="24.80" y="251.70" font-size="8.5" text-anchor="start" font-family="Liberation Serif, serif" >1</text>
<text x="12.20" y="165.00" font-size="12.0" text-anchor="start" font-family="Liberation Serif, serif" >10</text><text x="24.80" y="160.40" font-size="8.5" text-anchor="start" font-family="Liberation Serif, serif" >2</text>
<text x="12.20" y="73.70" font-size="12.0" text-anchor="start" font-family="Liberation Serif, serif" >10</text><text x="24.80" y="69.10" font-size="8.5" text-anchor="start" font-family="Liberation Serif, serif" >3</text>
<text x="57.71" y="21.20" font-size="12.0" text-anchor="start" font-family="Liberation Serif, serif" >10</text><text x="70.11" y="16.60" font-size="10" text-anchor="start" font-family="Liberation Serif, serif" >−</text><text x="75.71" y="16.60" font-size="8.5" text-anchor="start" font-family="Liberation Serif, serif" >1</text>
<text x="179.46" y="21.20" font-size="12.0" text-anchor="start" font-family="Liberation Serif, serif" >10</text><text x="192.06" y="16.60" font-size="8.5" text-anchor="start" font-family="Liberation Serif, serif" >0</text>
<text x="297.81" y="21.20" font-size="12.0" text-anchor="start" font-family="Liberation Serif, serif" >10</text><text x="310.41" y="16.60" font-size="8.5" text-anchor="start" font-family="Liberation Serif, serif" >1</text>
<text x="349.80" y="43.10" font-size="12.0" text-anchor="start" font-family="Liberation Serif, serif" >10</text><text x="362.40" y="37.80" font-size="8.5" text-anchor="start" font-family="Liberation Serif, serif" >25</text>
<text x="349.80" y="88.75" font-size="12.0" text-anchor="start" font-family="Liberation Serif, serif" >10</text><text x="362.40" y="83.45" font-size="8.5" text-anchor="start" font-family="Liberation Serif, serif" >24</text>
<text x="349.80" y="134.40" font-size="12.0" text-anchor="start" font-family="Liberation Serif, serif" >10</text><text x="362.40" y="129.10" font-size="8.5" text-anchor="start" font-family="Liberation Serif, serif" >23</text>
<text x="349.80" y="180.05" font-size="12.0" text-anchor="start" font-family="Liberation Serif, serif" >10</text><text x="362.40" y="174.75" font-size="8.5" text-anchor="start" font-family="Liberation Serif, serif" >22</text>
<text x="349.80" y="225.70" font-size="12.0" text-anchor="start" font-family="Liberation Serif, serif" >10</text><text x="362.40" y="220.40" font-size="8.5" text-anchor="start" font-family="Liberation Serif, serif" >21</text>
<text x="184.60" y="279.80" font-size="13" text-anchor="start" font-family="Liberation Serif, serif" font-style="italic">γ</text>
<text x="190.40" y="281.60" font-size="9.5" text-anchor="start" font-family="Liberation Serif, serif" font-style="italic">γ</text>
<text transform="translate(6.2,146.6) rotate(-90)" font-size="13.5" font-family="Liberation Serif, serif"><tspan font-style="italic">a</tspan><tspan font-size="9.5" dy="1.5">0</tspan></text>
<text transform="translate(377,112.4) rotate(90)" font-size="13.6" font-family="Liberation Serif, serif"><tspan font-style="italic">I</tspan><tspan font-size="9.5" dy="1.8">0</tspan><tspan dy="-1.8">(W/cm</tspan><tspan font-size="9.5" dy="-5">2</tspan><tspan dy="5">)</tspan></text>
<text x="166.60" y="7.30" font-size="11.2" text-anchor="start" font-family="Liberation Serif, serif" font-style="italic">Ɛ</text>
<text x="173.80" y="10.60" font-size="8.5" text-anchor="start" font-family="Liberation Serif, serif" font-style="italic">γ</text>
<text x="177.60" y="7.80" font-size="12.6" text-anchor="start" font-family="Liberation Serif, serif" >(GeV)</text>
<text x="110.60" y="48.30" font-size="13" text-anchor="start" font-family="Liberation Serif, serif" ><tspan font-style="italic">a</tspan><tspan font-size="8.8" dy="2.3">0</tspan></text><text transform="translate(124.72,48.30) scale(1.2,1)" font-size="13" font-family="Liberation Serif, serif">=</text><text x="136.50" y="48.30" font-size="13" text-anchor="start" font-family="Liberation Serif, serif" >2000,</text><text x="167.10" y="48.30" font-size="13" text-anchor="start" font-family="Liberation Serif, serif" ><tspan font-style="italic">γ</tspan><tspan font-style="italic" font-size="8.8" dy="2.3">γ</tspan></text><text transform="translate(177.52,48.30) scale(1.2,1)" font-size="13" font-family="Liberation Serif, serif">=</text><text x="190.20" y="48.30" font-size="13" text-anchor="start" font-family="Liberation Serif, serif" >400</text>
<text x="193.30" y="112.30" font-size="13" text-anchor="start" font-family="Liberation Serif, serif" ><tspan font-style="italic">a</tspan><tspan font-size="8.8" dy="2.3">0</tspan></text><text transform="translate(207.12,112.30) scale(1.2,1)" font-size="13" font-family="Liberation Serif, serif">=</text><text x="218.90" y="112.30" font-size="13" text-anchor="start" font-family="Liberation Serif, serif" >400,</text><text x="243.90" y="112.30" font-size="13" text-anchor="start" font-family="Liberation Serif, serif" ><tspan font-style="italic">γ</tspan><tspan font-style="italic" font-size="8.8" dy="2.3">γ</tspan></text><text transform="translate(254.52,112.30) scale(1.2,1)" font-size="13" font-family="Liberation Serif, serif">=</text><text x="266.60" y="112.30" font-size="13" text-anchor="start" font-family="Liberation Serif, serif" >2000</text>
<text x="264.70" y="229.40" font-size="12" text-anchor="middle" font-family="Liberation Serif, serif" >1.0</text>
<text x="292.60" y="140.20" font-size="12" text-anchor="middle" font-family="Liberation Serif, serif" >16.5</text>
<text transform="translate(107,195.3) rotate(37.6)" font-size="12" text-anchor="middle" dominant-baseline="central" font-family="Liberation Serif, serif">0.1</text>
<text transform="translate(208,126.8) rotate(37.6)" font-size="12" text-anchor="middle" dominant-baseline="central" font-family="Liberation Serif, serif">4.0</text>
<line x1="42.3" y1="185.3" x2="62.5" y2="185.3" stroke="#eecd22" stroke-width="1.7"/>
<line x1="42.3" y1="198.9" x2="62.5" y2="198.9" stroke="#3a8036" stroke-width="1.7"/>
<line x1="42.3" y1="212.0" x2="62.5" y2="212.0" stroke="#141450" stroke-width="1.7"/>
<line x1="43.1" y1="225.3" x2="60.1" y2="225.3" stroke="#3a8036" stroke-width="1.7" stroke-dasharray="6.9 3.0"/>
<line x1="43.1" y1="238.7" x2="60.1" y2="238.7" stroke="#141450" stroke-width="1.7" stroke-dasharray="6.9 3.0"/>
<text x="69.2" y="188.80" font-size="10.6" font-family="Liberation Serif, serif">τ/2</text>
<text x="69.2" y="202.40" font-size="10.6" font-family="Liberation Serif, serif">5τ</text>
<text x="69.2" y="215.50" font-size="10.6" font-family="Liberation Serif, serif">100τ</text>
<text x="69.2" y="228.80" font-size="10.6" font-family="Liberation Serif, serif">τ<tspan font-size="6.8" dy="1.5">FWHM</tspan><tspan dy="-1.5"> = 5τ</tspan></text>
<text x="69.2" y="242.20" font-size="10.6" font-family="Liberation Serif, serif">τ<tspan font-size="6.8" dy="1.5">FWHM</tspan><tspan dy="-1.5"> = 100τ</tspan></text>
</svg>
</body></html>
